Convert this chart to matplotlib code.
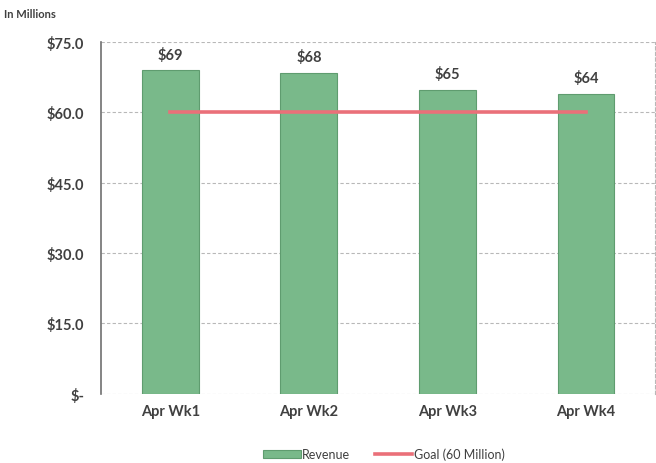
import matplotlib.pyplot as plt
from matplotlib.ticker import FuncFormatter

# weekly revenue, millions
weeks = ['Apr Wk1', 'Apr Wk2', 'Apr Wk3', 'Apr Wk4']
revenue = [69, 68.4, 64.8, 63.9]
labels = ['$69', '$68', '$65', '$64']
goal = [60, 60, 60, 60]
yticks = [0, 15, 30, 45, 60, 75]

plt.rcParams['font.family'] = ['Lato', 'DejaVu Sans']
text_col = '#404040'

fig = plt.figure(figsize=(6.56, 4.64), dpi=100)
ax = fig.add_axes([0.154, 0.149, 0.845, 0.759])

x = range(len(weeks))
bars = ax.bar(x, revenue, width=0.41, color='#79b98a', edgecolor='#5f9c6f',
              linewidth=0.8, label='Revenue', zorder=2)
line, = ax.plot(x, goal, color='#ea7079', linewidth=2.6, label='Goal (60 Million)', zorder=3)

for b, lab in zip(bars, labels):
    ax.annotate(lab, (b.get_x() + b.get_width() / 2, b.get_height()),
                xytext=(0, 6), textcoords='offset points', ha='center', va='bottom',
                fontsize=10.5, fontweight='bold', color=text_col)

ax.set_xlim(-0.5, len(weeks) - 0.5)
ax.set_ylim(0, 75)
ax.set_yticks(yticks)
ax.yaxis.set_major_formatter(FuncFormatter(lambda v, p: '$-' if v == 0 else f'${v:.1f}'))
ax.set_xticks(list(x))
ax.set_xticklabels(weeks)
ax.tick_params(axis='both', length=0, labelsize=10.5, labelcolor=text_col, pad=12)
for t in ax.get_xticklabels() + ax.get_yticklabels():
    t.set_fontweight('bold')
ax.tick_params(axis='x', pad=7)

ax.grid(axis='y', color='#b8b8b8', linestyle=(0, (3, 2)), linewidth=0.8, zorder=0)
for side in ['top', 'bottom']:
    ax.spines[side].set_visible(False)
ax.spines['right'].set_color('#b8b8b8')
ax.spines['right'].set_linestyle((0, (3, 2)))
ax.spines['left'].set_color('#707070')
ax.spines['left'].set_linewidth(1.2)

fig.text(0.006, 0.962, 'In Millions', fontsize=8, fontweight='bold', color=text_col)

leg = fig.legend([bars, line], ['Revenue', 'Goal (60 Million)'],
                 loc='lower center', bbox_to_anchor=(0.585, -0.018), ncol=2, frameon=False,
                 fontsize=9, handlelength=3.0, handleheight=0.6, columnspacing=2.0,
                 handletextpad=0.1)
for t in leg.get_texts():
    t.set_color(text_col)

fig.savefig('out.png', dpi=100)
